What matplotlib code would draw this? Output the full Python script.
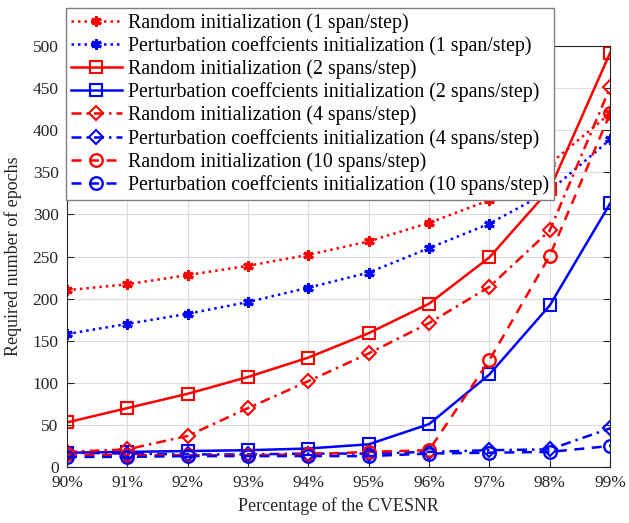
import matplotlib
matplotlib.use("Agg")
import matplotlib.pyplot as plt
import numpy as np

plt.rcParams['font.family'] = ['Liberation Serif', 'DejaVu Serif']
plt.rcParams['mathtext.fontset'] = 'stix'

categories = ['90%', '91%', '92%', '93%', '94%', '95%', '96%', '97%', '98%', '99%']

rand_1 = [210, 217, 228, 239, 252, 268, 290, 317, 360, 420]
pert_1 = [158, 170, 182, 196, 213, 231, 260, 289, 328, 389]
rand_2 = [53, 70, 87, 107, 130, 159, 194, 249, 330, 492]
pert_2 = [17, 18, 19, 20, 22, 27, 51, 110, 192, 313]
rand_4 = [18, 21, 37, 70, 102, 135, 171, 214, 281, 451]
pert_4 = [17, 16, 15, 15, 16, 16, 18, 20, 21, 46]
rand_10 = [15, 14, 14, 14, 15, 18, 20, 127, 251, 420]
pert_10 = [12, 12, 13, 13, 13, 13, 16, 17, 18, 25]

labels = [
    'Random initialization (1 span/step)',
    'Perturbation coeffcients initialization (1 span/step)',
    'Random initialization (2 spans/step)',
    'Perturbation coeffcients initialization (2 spans/step)',
    'Random initialization (4 spans/step)',
    'Perturbation coeffcients initialization (4 spans/step)',
    'Random initialization (10 spans/step)',
    'Perturbation coeffcients initialization (10 spans/step)',
]

fig = plt.figure(figsize=(6.29, 5.23), dpi=100)
ax = fig.add_axes([0.1065, 0.107, 0.8635, 0.805])

x = np.arange(len(categories))
RED = '#ff0000'
BLUE = '#0000ff'
lw = 1.8
dot = (0, (1, 1.6))
dash = (0, (4, 3))
dashdot = (0, (4, 2, 1, 2))

ax.plot(x, rand_1, color=RED, linestyle=dot, lw=lw, marker=(6, 2, 0), ms=7.5, mew=2.2, label=labels[0])
ax.plot(x, pert_1, color=BLUE, linestyle=dot, lw=lw, marker=(6, 2, 0), ms=7.5, mew=2.2, label=labels[1])
ax.plot(x, rand_2, color=RED, linestyle='-', lw=lw, marker='s', ms=8, mew=1.5, mfc='none', label=labels[2])
ax.plot(x, pert_2, color=BLUE, linestyle='-', lw=lw, marker='s', ms=8, mew=1.5, mfc='none', label=labels[3])
ax.plot(x, rand_4, color=RED, linestyle=dashdot, lw=lw, marker='D', ms=7, mew=1.5, mfc='none', label=labels[4])
ax.plot(x, pert_4, color=BLUE, linestyle=dashdot, lw=lw, marker='D', ms=7, mew=1.5, mfc='none', label=labels[5])
ax.plot(x, rand_10, color=RED, linestyle=dash, lw=lw, marker='o', ms=9, mew=1.7, mfc='none', label=labels[6])
ax.plot(x, pert_10, color=BLUE, linestyle=dash, lw=lw, marker='o', ms=9, mew=1.7, mfc='none', label=labels[7])

ax.set_xlim(0, len(categories) - 1)
ax.set_ylim(0, 500)
ax.set_xticks(x)
ax.set_xticklabels(categories)
ax.set_yticks(np.arange(0, 501, 50))
ax.grid(True, color='#dcdcdc', lw=0.8)
ax.set_axisbelow(True)
ax.tick_params(direction='in', top=True, right=True, labelsize=12.5, colors='#262626', length=5, width=0.8, pad=6)
for s in ax.spines.values():
    s.set_color('#262626')
    s.set_linewidth(0.8)
ax.set_xlabel('Percentage of the CVESNR', fontsize=13, color='#262626', labelpad=4)
ax.set_ylabel('Required number of epochs', fontsize=13, color='#262626', labelpad=8)

leg = fig.legend(loc='upper left', bbox_to_anchor=(0.105, 0.985), bbox_transform=fig.transFigure,
                 fontsize=14.3, handlelength=2.55, handletextpad=0.3, labelspacing=0.17,
                 borderpad=0.25, borderaxespad=0, fancybox=False, framealpha=1, edgecolor='#7f7f7f')
leg.get_frame().set_linewidth(1.0)

fig.savefig('out.png', dpi=100)
